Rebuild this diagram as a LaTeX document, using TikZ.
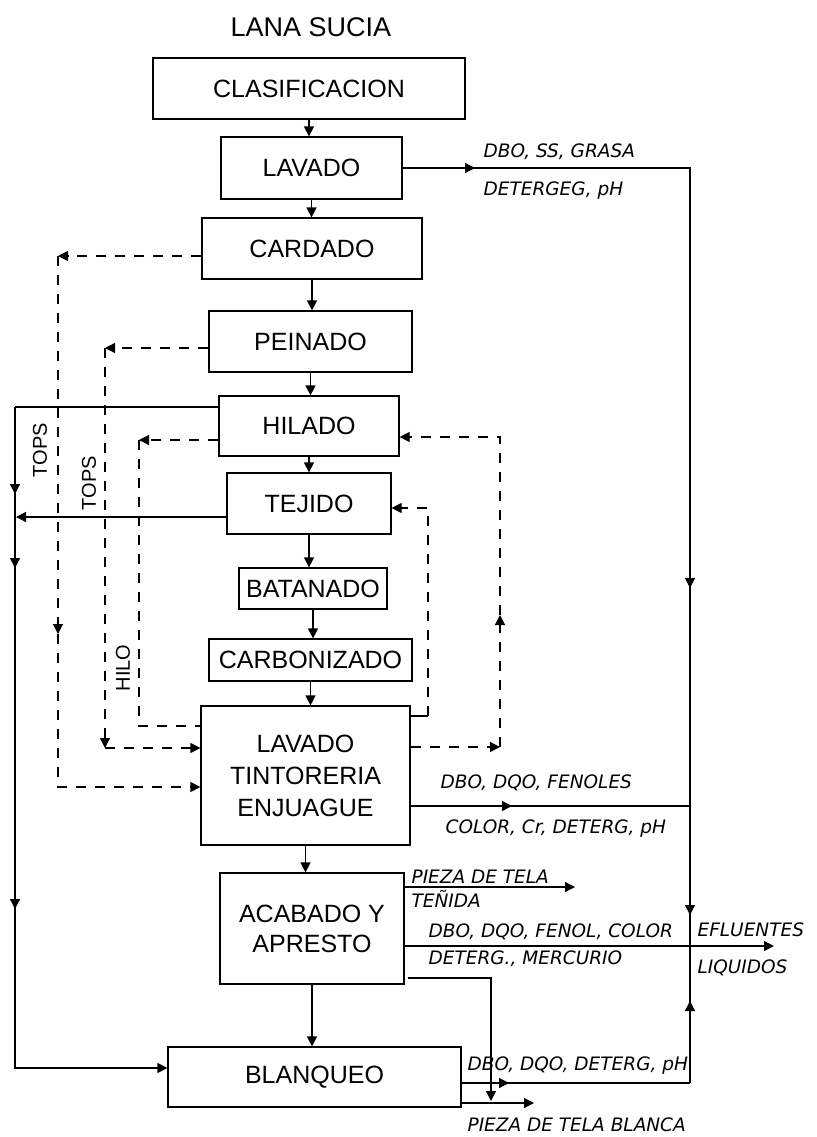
\documentclass[tikz,border=0pt]{standalone}
\usepackage{fontspec}
\setmainfont{Liberation Sans}
\newfontfamily\labelfont{DejaVu Sans}
\usetikzlibrary{arrows.meta}

\begin{document}
\begin{tikzpicture}[x=1pt, y=-1pt, line width=1.2pt,
    proc/.style={draw, inner sep=0pt, align=center, font=\fontsize{25}{32}\selectfont},
    lbl/.style={anchor=west, inner sep=0pt, font=\labelfont\itshape\fontsize{18.5}{20}\selectfont},
    side/.style={inner sep=0pt, rotate=90, font=\fontsize{20}{24}\selectfont},
    arr/.style={-{Triangle[length=10pt,width=10pt]}},
    dsh/.style={dash pattern=on 10pt off 9pt}]
    \useasboundingbox (0,0) rectangle (816,1137);

    % Title
    \node[font=\fontsize{27}{32}\selectfont] (lana) at (311,27) {LANA SUCIA};

    % --- Process boxes ---
    \node[proc, minimum width=312pt, minimum height=61pt] (clas) at (309,88.5) {CLASIFICACION};
    \node[proc, minimum width=181pt, minimum height=62pt] (lav1) at (311.5,168) {LAVADO};
    \node[proc, minimum width=220pt, minimum height=61pt] (card) at (312,248.5) {CARDADO};
    \node[proc, minimum width=203pt, minimum height=61pt] (pein) at (310.5,341.5) {PEINADO};
    \node[proc, minimum width=180pt, minimum height=60pt] (hil) at (309,426) {HILADO};
    \node[proc, minimum width=164pt, minimum height=61pt] (tej) at (309,503.5) {TEJIDO};
    \node[proc, minimum width=148pt, minimum height=41pt] (bat) at (313,588.5) {BATANADO};
    \node[proc, minimum width=203pt, minimum height=42pt] (carb) at (310.5,660) {CARBONIZADO};
    \node[proc, minimum width=209pt, minimum height=139pt] (tint) at (305.5,775.5) {LAVADO\\TINTORERIA\\ENJUAGUE};
    \node[proc, minimum width=184pt, minimum height=111pt, font=\fontsize{25}{30}\selectfont] (acab) at (312,928.5) {ACABADO Y\\APRESTO};
    \node[proc, minimum width=293pt, minimum height=60pt] (blan) at (314.5,1077) {BLANQUEO};

    % main chain
    \foreach \a/\b in {clas/lav1, lav1/card, card/pein, pein/hil, hil/tej, tej/bat, bat/carb, carb/tint, tint/acab, acab/blan} {
        \draw[arr] (\a.south) -- (\a.south |- \b.north);
    }

    % --- Right collector (liquid effluents) ---
    \coordinate (rt) at (690,168);
    \coordinate (rb) at (690,1083);
    \draw (lav1.east) -- (rt) -- (rb);
    \draw[arr] (lav1.east) -- (475,168);
    \draw[arr] (rt) -- (690,588);
    \draw[arr] (rt) -- (690,915);
    \draw[arr] (rb) -- (690,1001);

    \coordinate (tw) at (690,806);
    \draw (tint.east |- tw) -- (tw);
    \draw[arr] (tint.east |- tw) -- (512,806);

    \coordinate (pz1) at (575,887);
    \draw[arr] (acab.east |- pz1) -- (pz1);
    \coordinate (ef) at (774,946);
    \draw[arr] (acab.east |- ef) -- (ef);
    \coordinate (pk0) at (408,978);
    \coordinate (pk) at (491,978);
    \coordinate (pkb) at (491,1101);
    \draw[arr] (pk0) -- (pk) -- (pkb);

    \draw (blan.east |- rb) -- (rb);
    \draw[arr] (blan.east |- rb) -- (509,1083);
    \coordinate (bl2) at (534,1103);
    \draw[arr] (blan.east |- bl2) -- (bl2);

    % --- Left solid line (tops) ---
    \coordinate (lt) at (15,407);
    \coordinate (lb) at (15,1068);
    \draw (hil.west |- lt) -- (lt);
    \draw[arr] (lt) -- (lb) -- (blan.west |- lb);
    \draw[arr] (lt) -- (15,494);
    \draw[arr] (lt) -- (15,568);
    \draw[arr] (lt) -- (15,909);
    \coordinate (lm) at (16,517);
    \draw[arr] (tej.west |- lm) -- (lm);

    % --- Dashed returns ---
    \coordinate (d1) at (58,256);
    \coordinate (d1m) at (58,634);
    \coordinate (d1b) at (58,787);
    \draw[dsh,arr] (card.west |- d1) -- (d1);
    \draw[dsh,arr] (d1) -- (d1m);
    \draw[dsh,arr] (d1m) -- (d1b) -- (tint.west |- d1b);

    \coordinate (d2) at (105,348);
    \coordinate (d2b) at (105,748);
    \draw[dsh,arr] (pein.west |- d2) -- (d2);
    \draw[dsh,arr] (d2) -- (d2b);
    \draw[dsh,arr] (d2b) -- (tint.west |- d2b);

    \coordinate (d3) at (139,440);
    \coordinate (d3b) at (139,726);
    \draw[dsh,arr] (hil.west |- d3) -- (d3);
    \draw[dsh] (d3) -- (d3b) -- (tint.west |- d3b);

    \coordinate (d4t) at (428,508);
    \coordinate (d4b) at (428,716);
    \draw (tint.east |- d4b) -- (d4b);
    \draw[dsh,arr] (d4b) -- (d4t) -- (tej.east |- d4t);

    \coordinate (d5t) at (500,437);
    \coordinate (d5m) at (500,615);
    \coordinate (d5b) at (500,747);
    \draw[dsh,arr] (tint.east |- d5b) -- (d5b);
    \draw[dsh,arr] (d5b) -- (d5m);
    \draw[dsh,arr] (d5m) -- (d5t) -- (hil.east |- d5t);

    % --- Side labels ---
    \node[side] (tops1) at (40,450) {TOPS};
    \node[side] (tops2) at (89,483) {TOPS};
    \node[side] (hilo) at (123,668) {HILO};

    % --- Effluent labels ---
    \node[lbl] (l1) at (483,152) {DBO, SS, GRASA};
    \node[lbl] (l2) at (483,191) {DETERGEG, pH};
    \node[lbl] (l3) at (440,783) {DBO, DQO, FENOLES};
    \node[lbl] (l4) at (445,829) {COLOR, Cr, DETERG, pH};
    \node[lbl] (l5) at (411,877) {PIEZA DE TELA};
    \node[lbl] (l6) at (411,899) {TEÑIDA};
    \node[lbl] (l7) at (428,932) {DBO, DQO, FENOL, COLOR};
    \node[lbl] (l8) at (428,959) {DETERG., MERCURIO};
    \node[lbl] (l9) at (697,930) {EFLUENTES};
    \node[lbl] (l10) at (697,968) {LIQUIDOS};
    \node[lbl] (l11) at (467,1066) {DBO, DQO, DETERG, pH};
    \node[lbl] (l12) at (467,1125) {PIEZA DE TELA BLANCA};
\end{tikzpicture}
\end{document}
